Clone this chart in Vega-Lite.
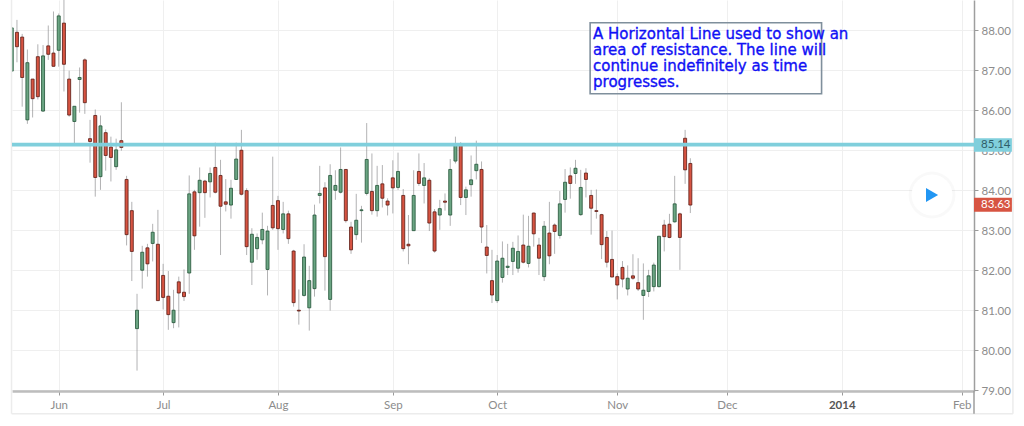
{"$schema":"https://vega.github.io/schema/vega-lite/v6.json","width":962,"height":391,"autosize":{"type":"none"},"padding":{"left":12,"top":0,"right":50,"bottom":35},"background":"#ffffff","view":{"stroke":null},
"config":{"text":{"font":"DejaVu Sans"},"axis":{"labelFont":"Lato"},"scale":{"continuousPadding":0}},
"datasets":{
"candles":[
{"bar":-9,"open":86.98,"high":88.06,"low":86.98,"close":88.06},{"bar":-8,"open":87.95,"high":88.26,"low":87.2,"close":87.59},{"bar":-7,"open":87.83,"high":87.91,"low":86.09,"close":86.82},{"bar":-6,"open":85.76,"high":87.52,"low":85.66,"close":87.19},{"bar":-5,"open":86.78,"high":86.78,"low":85.82,"close":86.29},{"bar":-4,"open":87.34,"high":87.65,"low":86.27,"close":86.34},{"bar":-3,"open":85.98,"high":87.63,"low":85.96,"close":87.36},{"bar":-2,"open":87.61,"high":88.12,"low":87.26,"close":87.4},{"bar":-1,"open":87.43,"high":88.47,"low":87.09,"close":87.1},
{"bar":0,"open":87.5,"high":88.42,"low":87.09,"close":88.36},{"bar":1,"open":88.18,"high":88.85,"low":86.47,"close":87.15},{"bar":2,"open":86.78,"high":86.99,"low":85.84,"close":85.88},{"bar":3,"open":85.72,"high":86.1,"low":85.17,"close":86.1},{"bar":4,"open":86.77,"high":87.07,"low":85.94,"close":86.82},{"bar":5,"open":87.26,"high":87.3,"low":85.91,"close":86.19},{"bar":6,"open":85.29,"high":85.76,"low":84.69,"close":85.22},{"bar":7,"open":85.87,"high":86.02,"low":83.84,"close":84.32},{"bar":8,"open":84.34,"high":85.87,"low":84.01,"close":85.61},{"bar":9,"open":85.44,"high":85.52,"low":84.49,"close":84.87},
{"bar":10,"open":85.08,"high":85.34,"low":84.22,"close":84.82},{"bar":11,"open":84.59,"high":85.29,"low":84.51,"close":85.01},{"bar":12,"open":85.24,"high":86.2,"low":84.99,"close":85.07},{"bar":13,"open":84.27,"high":84.36,"low":82.62,"close":82.89},{"bar":14,"open":83.49,"high":83.71,"low":81.73,"close":82.47},{"bar":15,"open":80.54,"high":81.41,"low":79.49,"close":81.0},{"bar":16,"open":82.0,"high":82.61,"low":81.54,"close":82.45},{"bar":17,"open":82.56,"high":82.66,"low":81.84,"close":82.16},{"bar":18,"open":82.67,"high":83.16,"low":82.22,"close":82.95},{"bar":19,"open":82.65,"high":83.51,"low":81.24,"close":81.24},
{"bar":20,"open":81.87,"high":82.16,"low":81.02,"close":81.32},{"bar":21,"open":81.35,"high":81.98,"low":80.51,"close":80.89},{"bar":22,"open":80.69,"high":81.51,"low":80.55,"close":81.0},{"bar":23,"open":81.71,"high":81.84,"low":80.57,"close":81.43},{"bar":24,"open":81.45,"high":82.02,"low":81.23,"close":81.34},{"bar":25,"open":81.93,"high":84.37,"low":81.41,"close":83.91},{"bar":26,"open":83.96,"high":84.01,"low":82.51,"close":82.86},{"bar":27,"open":83.94,"high":84.57,"low":83.09,"close":84.25},{"bar":28,"open":84.23,"high":84.26,"low":83.31,"close":83.94},{"bar":29,"open":84.21,"high":84.57,"low":83.82,"close":84.42},
{"bar":30,"open":84.57,"high":85.19,"low":83.92,"close":83.95},{"bar":31,"open":84.37,"high":84.76,"low":82.38,"close":83.6},{"bar":32,"open":83.71,"high":84.28,"low":83.47,"close":83.65},{"bar":33,"open":83.63,"high":84.26,"low":83.29,"close":84.05},{"bar":34,"open":84.27,"high":85.19,"low":84.26,"close":84.78},{"bar":35,"open":85.0,"high":85.51,"low":83.87,"close":83.9},{"bar":36,"open":83.99,"high":84.05,"low":82.38,"close":82.59},{"bar":37,"open":82.2,"high":83.05,"low":81.63,"close":82.9},{"bar":38,"open":82.54,"high":82.92,"low":82.26,"close":82.82},{"bar":39,"open":82.76,"high":83.44,"low":82.65,"close":83.02},
{"bar":40,"open":82.02,"high":83.11,"low":81.37,"close":82.98},{"bar":41,"open":83.62,"high":84.84,"low":83.01,"close":83.06},{"bar":42,"open":83.74,"high":83.86,"low":82.51,"close":83.04},{"bar":43,"open":83.02,"high":83.71,"low":82.92,"close":83.41},{"bar":44,"open":83.41,"high":83.49,"low":82.66,"close":82.79},{"bar":45,"open":82.48,"high":82.51,"low":81.09,"close":81.19},{"bar":46,"open":81.0,"high":81.52,"low":80.64,"close":80.98},{"bar":47,"open":81.37,"high":82.65,"low":81.34,"close":82.33},{"bar":48,"open":81.06,"high":82.11,"low":80.49,"close":81.74},{"bar":49,"open":81.54,"high":83.64,"low":81.34,"close":83.38},
{"bar":50,"open":83.87,"high":84.61,"low":83.67,"close":83.92},{"bar":51,"open":84.06,"high":84.2,"low":81.49,"close":82.34},{"bar":52,"open":81.27,"high":84.65,"low":80.99,"close":84.37},{"bar":53,"open":84.0,"high":84.5,"low":83.76,"close":84.12},{"bar":54,"open":83.95,"high":85.07,"low":83.92,"close":84.52},{"bar":55,"open":84.52,"high":84.52,"low":83.19,"close":83.24},{"bar":56,"open":83.08,"high":83.21,"low":82.41,"close":82.51},{"bar":57,"open":82.89,"high":83.91,"low":82.76,"close":83.25},{"bar":58,"open":83.49,"high":83.61,"low":82.69,"close":83.51},{"bar":59,"open":83.92,"high":85.68,"low":83.87,"close":84.77},
{"bar":60,"open":83.97,"high":84.92,"low":83.39,"close":83.49},{"bar":61,"open":83.49,"high":84.61,"low":83.34,"close":84.12},{"bar":62,"open":84.16,"high":84.63,"low":83.57,"close":83.8},{"bar":63,"open":83.73,"high":83.8,"low":83.37,"close":83.63},{"bar":64,"open":84.31,"high":84.75,"low":83.42,"close":84.06},{"bar":65,"open":84.07,"high":84.94,"low":84.01,"close":84.47},{"bar":66,"open":83.87,"high":84.03,"low":82.47,"close":82.54},{"bar":67,"open":82.65,"high":83.38,"low":82.15,"close":82.61},{"bar":68,"open":82.99,"high":84.5,"low":82.99,"close":83.87},{"bar":69,"open":84.47,"high":84.92,"low":84.11,"close":84.17},
{"bar":70,"open":84.12,"high":84.68,"low":83.67,"close":84.31},{"bar":71,"open":84.25,"high":84.3,"low":82.98,"close":83.18},{"bar":72,"open":83.46,"high":83.53,"low":82.44,"close":82.48},{"bar":73,"open":83.38,"high":83.76,"low":83.01,"close":83.54},{"bar":74,"open":83.73,"high":83.92,"low":83.49,"close":83.7},{"bar":75,"open":83.38,"high":84.78,"low":83.11,"close":84.52},{"bar":76,"open":84.73,"high":85.34,"low":84.67,"close":85.16},{"bar":77,"open":85.13,"high":85.2,"low":83.63,"close":83.82},{"bar":78,"open":83.82,"high":84.09,"low":83.38,"close":84.01},{"bar":79,"open":84.14,"high":84.87,"low":83.84,"close":84.26},
{"bar":80,"open":84.49,"high":85.24,"low":84.27,"close":84.65},{"bar":81,"open":84.52,"high":84.72,"low":82.68,"close":83.08},{"bar":82,"open":82.58,"high":83.13,"low":81.92,"close":82.37},{"bar":83,"open":81.74,"high":82.51,"low":81.18,"close":81.38},{"bar":84,"open":81.24,"high":82.38,"low":81.18,"close":82.23},{"bar":85,"open":81.82,"high":82.72,"low":81.69,"close":82.3},{"bar":86,"open":82.07,"high":82.66,"low":81.88,"close":82.1},{"bar":87,"open":82.22,"high":82.71,"low":81.88,"close":82.55},{"bar":88,"open":82.05,"high":82.87,"low":81.94,"close":82.47},{"bar":89,"open":82.63,"high":83.39,"low":82.17,"close":82.2},
{"bar":90,"open":82.17,"high":83.36,"low":82.07,"close":82.6},{"bar":91,"open":83.43,"high":83.44,"low":82.59,"close":82.91},{"bar":92,"open":82.63,"high":82.81,"low":81.88,"close":82.3},{"bar":93,"open":81.84,"high":83.23,"low":81.73,"close":83.1},{"bar":94,"open":82.93,"high":83.71,"low":82.15,"close":82.36},{"bar":95,"open":83.13,"high":83.17,"low":82.41,"close":82.97},{"bar":96,"open":82.87,"high":83.98,"low":82.79,"close":83.66},{"bar":97,"open":83.77,"high":84.53,"low":83.44,"close":84.2},{"bar":98,"open":84.36,"high":84.57,"low":83.79,"close":84.17},{"bar":99,"open":84.42,"high":84.76,"low":84.16,"close":84.55},
{"bar":100,"open":83.39,"high":84.51,"low":83.36,"close":84.07},{"bar":101,"open":84.43,"high":84.55,"low":83.82,"close":84.27},{"bar":102,"open":83.87,"high":84.01,"low":82.89,"close":83.55},{"bar":103,"open":83.49,"high":84.02,"low":83.29,"close":83.47},{"bar":104,"open":83.39,"high":83.41,"low":82.28,"close":82.64},{"bar":105,"open":82.82,"high":82.98,"low":82.07,"close":82.2},{"bar":106,"open":82.27,"high":82.99,"low":81.83,"close":81.83},{"bar":107,"open":81.84,"high":81.92,"low":81.27,"close":81.63},{"bar":108,"open":82.07,"high":82.23,"low":81.57,"close":81.78},{"bar":109,"open":81.53,"high":82.12,"low":81.37,"close":81.8},
{"bar":110,"open":81.86,"high":82.4,"low":81.76,"close":81.8},{"bar":111,"open":81.69,"high":82.3,"low":81.48,"close":81.53},{"bar":112,"open":81.37,"high":82.17,"low":80.76,"close":81.5},{"bar":113,"open":81.47,"high":82.01,"low":81.33,"close":81.86},{"bar":114,"open":81.59,"high":82.19,"low":81.47,"close":82.13},{"bar":115,"open":81.59,"high":82.85,"low":81.57,"close":82.85},{"bar":116,"open":83.13,"high":83.26,"low":82.47,"close":82.84},{"bar":117,"open":83.15,"high":83.41,"low":82.8,"close":82.82},{"bar":118,"open":83.21,"high":84.36,"low":83.19,"close":83.66},{"bar":119,"open":83.41,"high":83.44,"low":82.01,"close":82.82},
{"bar":120,"open":85.3,"high":85.51,"low":84.16,"close":84.51},{"bar":121,"open":84.67,"high":84.8,"low":83.43,"close":83.63}],
"frame":[{"x":-9.04,"x2":-9.04,"y":88.76,"y2":78.41},{"x":-9.04,"x2":182.8,"y":78.41,"y2":78.41},{"x":182.8,"x2":182.8,"y":88.76,"y2":78.41}],
"axisTail":[{"x":175.34,"x2":175.34,"y":78.98,"y2":78.41}],
"level":[{"x":-8.95,"x2":175.34,"y":85.14}],
"box":[{"x":101.8,"x2":146.14,"y":88.19,"y2":86.415}],
"note":[{"x":102.36,"y":87.91,"line":"A Horizontal Line used to show an"},{"x":102.36,"y":87.51,"line":"area of resistance. The line will"},{"x":102.36,"y":87.11,"line":"continue indefinitely as time"},{"x":102.36,"y":86.7,"line":"progresses."}],
"play":[{"x":167.3,"y":83.88}],
"pillLevel":[{"x":175.34,"x2":182.6,"y":85.3,"y2":84.96,"lx":176.7,"ly":85.14,"label":"85.14"}],
"pillLast":[{"x":175.34,"x2":182.6,"y":83.81,"y2":83.46,"lx":176.7,"ly":83.63,"label":"83.63"}]
},
"layer":[
{"data":{"name":"candles"},"mark":{"type":"rule","color":"#737375","opacity":0.55,"strokeWidth":1,"clip":true},
"encoding":{"x":{"field":"bar","type":"quantitative","scale":{"domain":[-8.95,175.34],"nice":false,"zero":false},
"axis":{"title":null,"orient":"bottom","values":[0,20,42,64,84,107,128,150,173],"labelExpr":"{'0':'Jun','20':'Jul','42':'Aug','64':'Sep','84':'Oct','107':'Nov','128':'Dec','150':'2014','173':'Feb'}[''+datum.value]","labelColor":{"condition":{"test":"datum.value==150","value":"#555555"},"value":"#8c8c8c"},"labelFontWeight":{"condition":{"test":"datum.value==150","value":"bold"},"value":"normal"},"labelFontSize":11.5,"labelOverlap":false,"labelBound":false,"labelFlush":false,"labelPadding":4,"tickSize":4,"tickColor":"#9a9a9a","domainColor":"#bdbdbd","domainWidth":2.4,"grid":true,"gridColor":"#efefef","gridWidth":1}},
"y":{"field":"high","type":"quantitative","scale":{"domain":[78.98,88.7575],"nice":false,"zero":false},
"axis":{"title":null,"orient":"right","values":[79,80,81,82,83,84,85,86,87,88],"format":".2f","labelColor":"#8c8c8c","labelFontSize":11.5,"labelPadding":3,"labelOffset":1,"labelBound":false,"labelOverlap":false,"tickSize":4,"tickColor":"#9a9a9a","domainColor":"#9e9e9e","domainWidth":1.5,"grid":true,"gridColor":"#efefef","gridWidth":1}},
"y2":{"field":"low"}}},
{"data":{"name":"candles"},"mark":{"type":"bar","size":3,"strokeWidth":1,"clip":true},
"encoding":{"x":{"field":"bar","type":"quantitative","scale":{"domain":[-8.95,175.34],"nice":false,"zero":false},"axis":{"title":null}},
"y":{"field":"open","type":"quantitative","scale":{"domain":[78.98,88.7575],"nice":false,"zero":false},"axis":{"title":null}},"y2":{"field":"close"},
"fill":{"condition":{"test":"datum.close>=datum.open","value":"#6ba583"},"value":"#d75442"},
"stroke":{"condition":{"test":"datum.close>=datum.open","value":"#225437"},"value":"#5b1a13"},"strokeOpacity":{"value":0.8}}},
{"data":{"name":"frame"},"mark":{"type":"rule","color":"#ececec","strokeWidth":1.5},
"encoding":{"x":{"field":"x","type":"quantitative","scale":{"domain":[-8.95,175.34],"nice":false,"zero":false},"axis":{"title":null}},"x2":{"field":"x2"},"y":{"field":"y","type":"quantitative","scale":{"domain":[78.98,88.7575],"nice":false,"zero":false},"axis":{"title":null}},"y2":{"field":"y2"}}},
{"data":{"name":"axisTail"},"mark":{"type":"rule","color":"#9e9e9e","strokeWidth":1.5},
"encoding":{"x":{"field":"x","type":"quantitative","scale":{"domain":[-8.95,175.34],"nice":false,"zero":false},"axis":{"title":null}},"x2":{"field":"x2"},"y":{"field":"y","type":"quantitative","scale":{"domain":[78.98,88.7575],"nice":false,"zero":false},"axis":{"title":null}},"y2":{"field":"y2"}}},
{"data":{"name":"pillLevel"},"mark":{"type":"rect","color":"#80cfdc"},
"encoding":{"x":{"field":"x","type":"quantitative","scale":{"domain":[-8.95,175.34],"nice":false,"zero":false},"axis":{"title":null}},"x2":{"field":"x2"},"y":{"field":"y","type":"quantitative","scale":{"domain":[78.98,88.7575],"nice":false,"zero":false},"axis":{"title":null}},"y2":{"field":"y2"}}},
{"data":{"name":"pillLast"},"mark":{"type":"rect","color":"#d75442"},
"encoding":{"x":{"field":"x","type":"quantitative","scale":{"domain":[-8.95,175.34],"nice":false,"zero":false},"axis":{"title":null}},"x2":{"field":"x2"},"y":{"field":"y","type":"quantitative","scale":{"domain":[78.98,88.7575],"nice":false,"zero":false},"axis":{"title":null}},"y2":{"field":"y2"}}},
{"data":{"name":"pillLevel"},"mark":{"type":"text","align":"left","baseline":"middle","font":"Lato","fontSize":11.5,"color":"#2f5d68"},
"encoding":{"x":{"field":"lx","type":"quantitative","scale":{"domain":[-8.95,175.34],"nice":false,"zero":false},"axis":{"title":null}},"y":{"field":"ly","type":"quantitative","scale":{"domain":[78.98,88.7575],"nice":false,"zero":false},"axis":{"title":null}},"text":{"field":"label"}}},
{"data":{"name":"pillLast"},"mark":{"type":"text","align":"left","baseline":"middle","font":"Lato","fontSize":11.5,"color":"#ffffff"},
"encoding":{"x":{"field":"lx","type":"quantitative","scale":{"domain":[-8.95,175.34],"nice":false,"zero":false},"axis":{"title":null}},"y":{"field":"ly","type":"quantitative","scale":{"domain":[78.98,88.7575],"nice":false,"zero":false},"axis":{"title":null}},"text":{"field":"label"}}},
{"data":{"name":"level"},"mark":{"type":"rule","color":"#80cfdc","strokeWidth":3.6},
"encoding":{"x":{"field":"x","type":"quantitative","scale":{"domain":[-8.95,175.34],"nice":false,"zero":false},"axis":{"title":null}},"x2":{"field":"x2"},"y":{"field":"y","type":"quantitative","scale":{"domain":[78.98,88.7575],"nice":false,"zero":false},"axis":{"title":null}}}},
{"data":{"name":"box"},"mark":{"type":"rect","fillOpacity":0,"stroke":"#7f8f9c","strokeWidth":1.6},
"encoding":{"x":{"field":"x","type":"quantitative","scale":{"domain":[-8.95,175.34],"nice":false,"zero":false},"axis":{"title":null}},"x2":{"field":"x2"},"y":{"field":"y","type":"quantitative","scale":{"domain":[78.98,88.7575],"nice":false,"zero":false},"axis":{"title":null}},"y2":{"field":"y2"}}},
{"data":{"name":"note"},"mark":{"type":"text","align":"left","baseline":"middle","font":"DejaVu Sans","fontSize":15,"color":"#1010f5","stroke":"#1010f5","strokeWidth":0.35},
"encoding":{"x":{"field":"x","type":"quantitative","scale":{"domain":[-8.95,175.34],"nice":false,"zero":false},"axis":{"title":null}},"y":{"field":"y","type":"quantitative","scale":{"domain":[78.98,88.7575],"nice":false,"zero":false},"axis":{"title":null}},"text":{"field":"line"}}},
{"data":{"name":"play"},"mark":{"type":"point","shape":"circle","filled":true,"size":2200,"color":"#000000","opacity":0.025},
"encoding":{"x":{"field":"x","type":"quantitative","scale":{"domain":[-8.95,175.34],"nice":false,"zero":false},"axis":{"title":null}},"y":{"field":"y","type":"quantitative","scale":{"domain":[78.98,88.7575],"nice":false,"zero":false},"axis":{"title":null}}}},
{"data":{"name":"play"},"mark":{"type":"point","shape":"circle","filled":true,"size":1680,"color":"#ffffff","opacity":1},
"encoding":{"x":{"field":"x","type":"quantitative","scale":{"domain":[-8.95,175.34],"nice":false,"zero":false},"axis":{"title":null}},"y":{"field":"y","type":"quantitative","scale":{"domain":[78.98,88.7575],"nice":false,"zero":false},"axis":{"title":null}}}},
{"data":{"name":"play"},"mark":{"type":"point","shape":"triangle-right","filled":true,"size":196,"color":"#2196f3","opacity":1},
"encoding":{"x":{"field":"x","type":"quantitative","scale":{"domain":[-8.95,175.34],"nice":false,"zero":false},"axis":{"title":null}},"y":{"field":"y","type":"quantitative","scale":{"domain":[78.98,88.7575],"nice":false,"zero":false},"axis":{"title":null}}}}
]}
